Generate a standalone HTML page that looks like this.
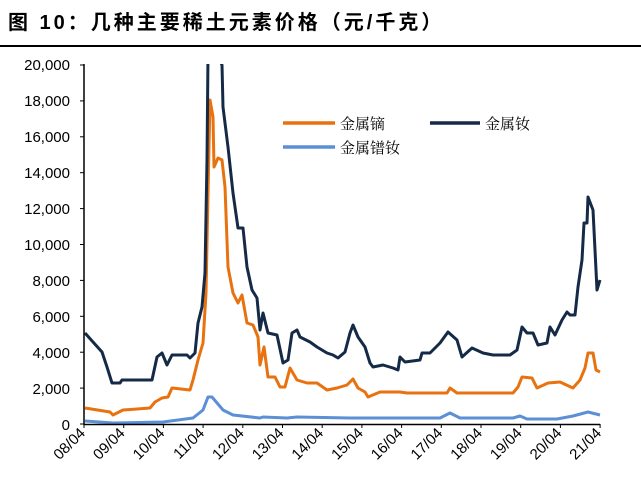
<!DOCTYPE html>
<html><head><meta charset="utf-8"><style>
body{margin:0;background:#fff;width:641px;height:488px;overflow:hidden}
svg{display:block}
</style></head><body>
<svg id="s" width="641" height="488" xmlns="http://www.w3.org/2000/svg" font-family="Liberation Sans, Noto Sans CJK SC, sans-serif">
<text x="8" y="29" font-size="20" font-weight="bold" letter-spacing="3">图 10：几种主要稀土元素价格（元/千克）</text>
<rect x="0" y="45" width="641" height="2" fill="#000"/>
<g font-size="15" text-anchor="end" fill="#000">
<text x="70" y="70">20,000</text><text x="70" y="106">18,000</text><text x="70" y="142">16,000</text>
<text x="70" y="178">14,000</text><text x="70" y="214">12,000</text><text x="70" y="250">10,000</text>
<text x="70" y="286">8,000</text><text x="70" y="322">6,000</text><text x="70" y="358">4,000</text>
<text x="70" y="394">2,000</text><text x="70" y="430">0</text>
</g>
<g id="ticks"></g>
<g id="xl" font-size="15" text-anchor="end"></g>
<defs><clipPath id="c"><rect x="84" y="64" width="520" height="362"/></clipPath></defs>
<g clip-path="url(#c)" fill="none" stroke-width="3" stroke-linejoin="round">
<polyline stroke="#5b8fd6" points="85,421 113,423 163,422 193,418 203,410 208,397 212,397 223,410 233,415 260,418 263,417 287,418 297,417 350,418 440,418 450,413 460,418 513,418 520,416 527,419 557,419 573,416 588,412 600,415"/>
<polyline stroke="#e8720f" points="85,408 110,412 113,415 123,410 150,408 155,402 162,398 168,397 172,388 190,390 193,380 198,360 203,343 206,293 208,193 210,100 213,117 214,167 218,158 222,160 225,187 228,267 233,293 238,303 242,295 247,323 253,325 258,337 260,365 264,347 268,377 275,377 280,387 285,387 290,368 297,380 307,383 317,383 327,390 337,388 347,385 353,379 358,388 365,392 368,397 380,392 400,392 407,393 447,393 450,388 457,393 513,393 518,387 522,377 532,378 537,388 548,383 560,382 573,388 580,380 585,368 588,353 593,353 596,370 600,372"/>
<polyline stroke="#152a47" points="85,333 93,342 102,352 107,367 112,383 120,383 122,380 152,380 157,357 162,353 167,365 172,355 187,355 190,358 195,353 198,323 202,307 205,273 207,160 208,55 217,55 222,65 223,107 228,147 233,193 238,228 243,228 247,267 252,290 257,298 260,330 263,313 268,333 277,335 283,363 288,360 292,333 297,330 300,337 310,342 317,347 327,353 333,355 338,358 345,352 350,333 353,325 358,337 365,347 370,363 373,367 383,365 393,368 398,370 400,357 405,362 420,360 422,353 430,353 440,343 448,332 457,340 462,357 472,348 483,353 493,355 510,355 517,350 522,327 527,333 533,333 538,345 547,343 550,327 555,335 562,320 567,312 570,315 575,315 578,287 582,260 584,223 587,223 588,197 593,210 597,290 600,280"/>
</g>
<line x1="84" y1="64" x2="84" y2="425" stroke="#000" stroke-width="1.5"/>
<line x1="84" y1="424.5" x2="600" y2="424.5" stroke="#000" stroke-width="1.5"/>
<line x1="283" y1="123" x2="335" y2="123" stroke="#e8720f" stroke-width="3.5"/>
<line x1="430" y1="123" x2="480" y2="123" stroke="#152a47" stroke-width="3.5"/>
<line x1="283" y1="147" x2="335" y2="147" stroke="#5b8fd6" stroke-width="3.5"/>
<g font-size="15" font-family="Noto Serif CJK SC, Liberation Serif, serif">
<text x="340" y="129">金属镝</text><text x="485" y="129">金属钕</text><text x="340" y="153">金属镨钕</text>
</g>
</svg>
<script>
var X=t=>84+t*39.7;
var xl=document.getElementById("xl"),tk=document.getElementById("ticks");
for(var i=0;i<=13;i++){var x=X(i),lab=(i+8<10?"0":"")+(i+8)+"/04";
var t=document.createElementNS("http://www.w3.org/2000/svg","text");t.setAttribute("transform","translate("+(x+2)+",434) rotate(-45)");t.textContent=lab;xl.appendChild(t);
var l=document.createElementNS("http://www.w3.org/2000/svg","line");l.setAttribute("x1",x);l.setAttribute("x2",x);l.setAttribute("y1",424);l.setAttribute("y2",428);l.setAttribute("stroke","#000");tk.appendChild(l);}
for(var v=0;v<=20000;v+=2000){var y=424-v*0.01795;var l=document.createElementNS("http://www.w3.org/2000/svg","line");l.setAttribute("x1",80);l.setAttribute("x2",84);l.setAttribute("y1",y);l.setAttribute("y2",y);l.setAttribute("stroke","#000");tk.appendChild(l);}
</script>
</body></html>
